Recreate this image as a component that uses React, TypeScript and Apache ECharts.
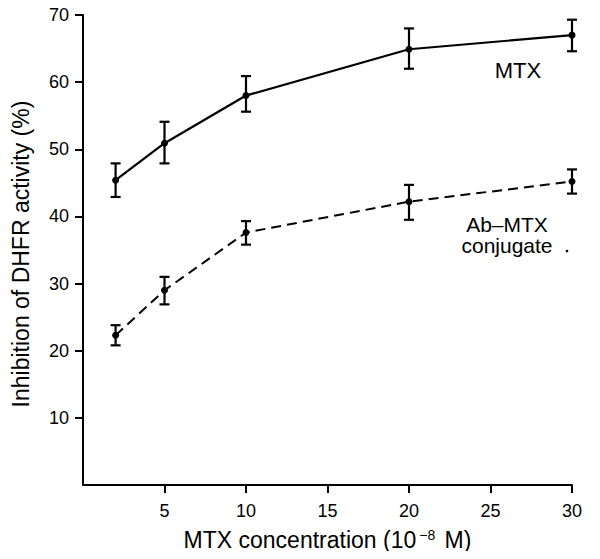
import React, { useEffect, useRef } from "react";
import * as echarts from "echarts";

const concentrations = [2, 5, 10, 20, 30];
const mtxMean = [45.4, 50.9, 58.0, 64.9, 67.0];
const mtxLow = [42.9, 47.9, 55.6, 62.0, 64.6];
const mtxHigh = [47.9, 54.1, 60.9, 68.0, 69.3];
const conjMean = [22.3, 29.0, 37.6, 42.2, 45.2];
const conjLow = [20.8, 26.9, 35.8, 39.5, 43.4];
const conjHigh = [23.8, 31.0, 39.3, 44.7, 47.0];
const xTicks = [5, 10, 15, 20, 25, 30];
const yTicks = [10, 20, 30, 40, 50, 60, 70];

const FONT = "Liberation Sans, Arial, Helvetica, sans-serif";

function errorSeries(low: number[], high: number[]) {
  return {
    type: "custom",
    data: concentrations.map((x, i) => [x, low[i], high[i]]),
    renderItem: (params: any, api: any) => {
      const x = api.value(0);
      const lo = api.coord([x, api.value(1)]);
      const hi = api.coord([x, api.value(2)]);
      const w = 5;
      const style = { stroke: "#000", lineWidth: 2.2 };
      return {
        type: "group",
        children: [
          { type: "line", shape: { x1: lo[0], y1: lo[1], x2: hi[0], y2: hi[1] }, style },
          { type: "line", shape: { x1: lo[0] - w, y1: lo[1], x2: lo[0] + w, y2: lo[1] }, style },
          { type: "line", shape: { x1: hi[0] - w, y1: hi[1], x2: hi[0] + w, y2: hi[1] }, style },
        ],
      };
    },
    z: 3,
  };
}

export default function App() {
  const ref = useRef<HTMLDivElement>(null);
  useEffect(() => {
    const chart = echarts.init(ref.current!, null, { renderer: "svg" });
    chart.setOption({
      animation: false,
      backgroundColor: "#fff",
      textStyle: { fontFamily: FONT },
      grid: { left: 83, right: 28, top: 15, bottom: 74 },
      xAxis: {
        type: "value",
        min: 0,
        max: 30,
        interval: 5,
        axisLine: { lineStyle: { color: "#000", width: 2 } },
        axisTick: { length: 8, lineStyle: { color: "#000", width: 2 } },
        axisLabel: {
          color: "#000",
          fontSize: 18,
          margin: 17,
          fontFamily: FONT,
          showMinLabel: false,
          formatter: (v: number) => (xTicks.includes(v) ? String(v) : ""),
        },
        splitLine: { show: false },
        name: "{n|MTX concentration (10}{s|−8}{n| M)}",
        nameLocation: "middle",
        nameGap: 43,
        nameTextStyle: {
          rich: {
            n: { fontSize: 23, lineHeight: 23, color: "#000", fontFamily: FONT },
            s: { fontSize: 14, lineHeight: 14, color: "#000", fontFamily: FONT, verticalAlign: "top", padding: [0, 3, 0, 3] },
          },
        },
      },
      yAxis: {
        type: "value",
        min: 0,
        max: 70,
        interval: 10,
        axisLine: { show: true, lineStyle: { color: "#000", width: 2 } },
        axisTick: { show: true, length: 8, lineStyle: { color: "#000", width: 2 } },
        axisLabel: {
          color: "#000",
          fontSize: 18,
          margin: 14,
          fontFamily: FONT,
          showMinLabel: false,
          formatter: (v: number) => (yTicks.includes(v) ? String(v) : ""),
        },
        splitLine: { show: false },
        name: "Inhibition of DHFR activity (%)",
        nameLocation: "middle",
        nameGap: 51,
        nameRotate: 90,
        nameTextStyle: { fontSize: 23, color: "#000", fontFamily: FONT, padding: [0, 8, 0, 0] },
      },
      series: [
        {
          type: "line",
          data: concentrations.map((x, i) => [x, mtxMean[i]]),
          symbol: "circle",
          symbolSize: 7,
          itemStyle: { color: "#000" },
          lineStyle: { color: "#000", width: 2.2 },
          z: 4,
        },
        {
          type: "line",
          data: concentrations.map((x, i) => [x, conjMean[i]]),
          symbol: "circle",
          symbolSize: 7,
          itemStyle: { color: "#000" },
          lineStyle: { color: "#000", width: 2, type: [10, 6] },
          z: 4,
        },
        errorSeries(mtxLow, mtxHigh),
        errorSeries(conjLow, conjHigh),
      ],
      graphic: [
        {
          type: "text",
          x: 518,
          y: 81,
          style: { text: "MTX", fontSize: 22, fill: "#000", fontFamily: FONT, align: "center", verticalAlign: "bottom" },
        },
        {
          type: "text",
          x: 507,
          y: 224,
          style: { text: "Ab–MTX", fontSize: 21, fill: "#000", fontFamily: FONT, align: "center", verticalAlign: "middle" },
        },
        {
          type: "text",
          x: 507,
          y: 245,
          style: { text: "conjugate", fontSize: 21, fill: "#000", fontFamily: FONT, align: "center", verticalAlign: "middle" },
        },
        { type: "circle", shape: { cx: 567, cy: 251, r: 1.3 }, style: { fill: "#000" } },
      ],
    });
    return () => chart.dispose();
  }, []);
  return <div ref={ref} style={{ width: 600, height: 559, margin: -8 }} />;
}
